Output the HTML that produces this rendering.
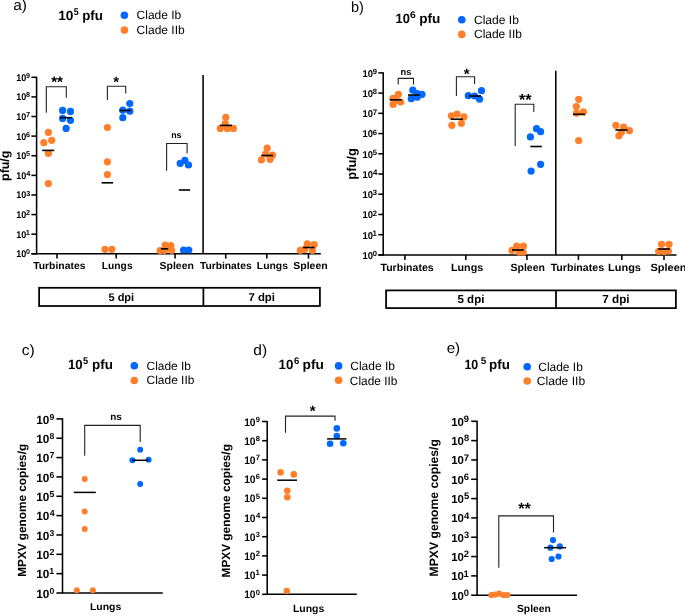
<!DOCTYPE html>
<html><head><meta charset="utf-8"><style>
html,body{margin:0;padding:0;background:#fff;}
svg{display:block;will-change:transform;}
text{font-family:"Liberation Sans",sans-serif;text-rendering:geometricPrecision;}
</style></head><body>
<svg width="685" height="615" viewBox="0 0 685 615">
<rect width="685" height="615" fill="#fff"/>
<text transform="translate(13.25,9.80) scale(1.041,1)" font-size="14.80" font-weight="normal" fill="#000" >a)</text>
<text transform="translate(58.14,20.30) scale(1.029,1)" font-size="13.30" font-weight="bold" fill="#000" >10</text>
<text transform="translate(73.63,15.40) scale(0.885,1)" font-size="10.00" font-weight="bold" fill="#000" >5</text>
<text transform="translate(82.22,20.30) scale(0.999,1)" font-size="13.30" font-weight="bold" fill="#000" >pfu</text>
<circle cx="124.40" cy="15.20" r="3.80" fill="#0068ff"/>
<circle cx="124.40" cy="30.10" r="3.80" fill="#ff7f2a"/>
<text x="136.59" y="19.40" font-size="12.00" font-weight="normal" fill="#000" >Clade Ib</text>
<text transform="translate(136.59,33.90) scale(1.002,1)" font-size="12.00" font-weight="normal" fill="#000" >Clade IIb</text>
<line x1="36.60" y1="76.70" x2="36.60" y2="254.40" stroke="#000" stroke-width="1.55"/>
<line x1="31.40" y1="77.30" x2="36.60" y2="77.30" stroke="#000" stroke-width="1.55"/>
<text transform="translate(16.33,80.80) scale(0.926,1)" font-size="9.75" font-weight="bold" fill="#000" >10</text>
<text x="26.05" y="77.88" font-size="7.20" font-weight="bold" fill="#000" >9</text>
<line x1="31.40" y1="96.91" x2="36.60" y2="96.91" stroke="#000" stroke-width="1.55"/>
<text transform="translate(16.33,100.41) scale(0.926,1)" font-size="9.75" font-weight="bold" fill="#000" >10</text>
<text x="26.07" y="97.49" font-size="7.20" font-weight="bold" fill="#000" >8</text>
<line x1="31.40" y1="116.52" x2="36.60" y2="116.52" stroke="#000" stroke-width="1.55"/>
<text transform="translate(16.33,120.02) scale(0.926,1)" font-size="9.75" font-weight="bold" fill="#000" >10</text>
<text x="25.98" y="117.17" font-size="7.41" font-weight="bold" fill="#000" >7</text>
<line x1="31.40" y1="136.13" x2="36.60" y2="136.13" stroke="#000" stroke-width="1.55"/>
<text transform="translate(16.33,139.63) scale(0.926,1)" font-size="9.75" font-weight="bold" fill="#000" >10</text>
<text x="26.03" y="136.71" font-size="7.20" font-weight="bold" fill="#000" >6</text>
<line x1="31.40" y1="155.74" x2="36.60" y2="155.74" stroke="#000" stroke-width="1.55"/>
<text transform="translate(16.33,159.24) scale(0.926,1)" font-size="9.75" font-weight="bold" fill="#000" >10</text>
<text x="26.07" y="156.32" font-size="7.31" font-weight="bold" fill="#000" >5</text>
<line x1="31.40" y1="175.36" x2="36.60" y2="175.36" stroke="#000" stroke-width="1.55"/>
<text transform="translate(16.33,178.86) scale(0.926,1)" font-size="9.75" font-weight="bold" fill="#000" >10</text>
<text x="26.19" y="176.01" font-size="7.41" font-weight="bold" fill="#000" >4</text>
<line x1="31.40" y1="194.97" x2="36.60" y2="194.97" stroke="#000" stroke-width="1.55"/>
<text transform="translate(16.33,198.47) scale(0.926,1)" font-size="9.75" font-weight="bold" fill="#000" >10</text>
<text x="26.13" y="195.54" font-size="7.19" font-weight="bold" fill="#000" >3</text>
<line x1="31.40" y1="214.58" x2="36.60" y2="214.58" stroke="#000" stroke-width="1.55"/>
<text transform="translate(16.33,218.08) scale(0.926,1)" font-size="9.75" font-weight="bold" fill="#000" >10</text>
<text x="26.04" y="215.23" font-size="7.31" font-weight="bold" fill="#000" >2</text>
<line x1="31.40" y1="234.19" x2="36.60" y2="234.19" stroke="#000" stroke-width="1.55"/>
<text transform="translate(16.33,237.69) scale(0.926,1)" font-size="9.75" font-weight="bold" fill="#000" >10</text>
<text x="25.83" y="234.84" font-size="7.41" font-weight="bold" fill="#000" >1</text>
<line x1="31.40" y1="253.80" x2="36.60" y2="253.80" stroke="#000" stroke-width="1.55"/>
<text transform="translate(16.33,257.30) scale(0.926,1)" font-size="9.75" font-weight="bold" fill="#000" >10</text>
<text x="26.01" y="254.38" font-size="7.20" font-weight="bold" fill="#000" >0</text>
<line x1="31.40" y1="253.80" x2="320.80" y2="253.80" stroke="#000" stroke-width="1.55"/>
<line x1="203.10" y1="75.00" x2="203.10" y2="253.80" stroke="#000" stroke-width="1.55"/>
<line x1="57.00" y1="253.80" x2="57.00" y2="258.60" stroke="#000" stroke-width="1.55"/>
<line x1="116.20" y1="253.80" x2="116.20" y2="258.60" stroke="#000" stroke-width="1.55"/>
<line x1="175.10" y1="253.80" x2="175.10" y2="258.60" stroke="#000" stroke-width="1.55"/>
<line x1="225.70" y1="253.80" x2="225.70" y2="258.60" stroke="#000" stroke-width="1.55"/>
<line x1="266.80" y1="253.80" x2="266.80" y2="258.60" stroke="#000" stroke-width="1.55"/>
<line x1="308.50" y1="253.80" x2="308.50" y2="258.60" stroke="#000" stroke-width="1.55"/>
<text transform="translate(33.19,269.20) scale(1.027,1)" font-size="10.10" font-weight="bold" fill="#000" >Turbinates</text>
<text transform="translate(101.81,269.20) scale(1.017,1)" font-size="10.10" font-weight="bold" fill="#000" >Lungs</text>
<text transform="translate(159.60,269.20) scale(1.034,1)" font-size="10.10" font-weight="bold" fill="#000" >Spleen</text>
<text transform="translate(199.89,269.20) scale(1.019,1)" font-size="10.10" font-weight="bold" fill="#000" >Turbinates</text>
<text transform="translate(256.80,269.20) scale(1.027,1)" font-size="10.10" font-weight="bold" fill="#000" >Lungs</text>
<text transform="translate(293.30,269.20) scale(1.037,1)" font-size="10.10" font-weight="bold" fill="#000" >Spleen</text>
<text transform="translate(9.40,180.92) rotate(-90)" x="0" y="0" font-size="12.38" font-weight="bold">pfu/g</text>
<rect x="39.1" y="287.8" width="280.8" height="18.2" fill="none" stroke="#000" stroke-width="1.75"/>
<line x1="203.40" y1="287.80" x2="203.40" y2="306.00" stroke="#000" stroke-width="1.75"/>
<text x="108.46" y="301.00" font-size="11.02" font-weight="bold" fill="#000" >5 dpi</text>
<text x="248.41" y="301.00" font-size="11.40" font-weight="bold" fill="#000" >7 dpi</text>
<polyline points="46.30,112.80 46.30,86.80 66.30,86.80 66.30,97.70" fill="none" stroke="#222" stroke-width="1.1"/>
<text x="51.15" y="86.84" font-size="15.25" font-weight="bold" fill="#000" >**</text>
<polyline points="107.40,100.00 107.40,86.30 125.70,86.30 125.70,93.50" fill="none" stroke="#222" stroke-width="1.1"/>
<text x="113.25" y="86.94" font-size="15.06" font-weight="bold" fill="#000" >*</text>
<polyline points="166.60,170.70 166.60,143.50 187.10,143.50 187.10,153.30" fill="none" stroke="#222" stroke-width="1.1"/>
<text x="171.21" y="138.40" font-size="8.87" font-weight="bold" fill="#000" >ns</text>
<circle cx="48.40" cy="132.40" r="3.60" fill="#ff7f2a"/>
<circle cx="51.70" cy="140.30" r="3.60" fill="#ff7f2a"/>
<circle cx="43.80" cy="142.70" r="3.60" fill="#ff7f2a"/>
<circle cx="48.40" cy="153.50" r="3.60" fill="#ff7f2a"/>
<circle cx="48.40" cy="183.60" r="3.60" fill="#ff7f2a"/>
<line x1="42.20" y1="150.40" x2="54.20" y2="150.40" stroke="#000" stroke-width="1.6"/>
<circle cx="62.60" cy="110.40" r="3.60" fill="#0068ff"/>
<circle cx="70.50" cy="111.40" r="3.60" fill="#0068ff"/>
<circle cx="62.60" cy="118.40" r="3.60" fill="#0068ff"/>
<circle cx="70.50" cy="120.30" r="3.60" fill="#0068ff"/>
<circle cx="66.10" cy="128.40" r="3.60" fill="#0068ff"/>
<line x1="60.10" y1="117.70" x2="71.80" y2="117.70" stroke="#000" stroke-width="1.6"/>
<circle cx="107.40" cy="127.50" r="3.60" fill="#ff7f2a"/>
<circle cx="107.40" cy="161.80" r="3.60" fill="#ff7f2a"/>
<circle cx="107.40" cy="174.60" r="3.60" fill="#ff7f2a"/>
<circle cx="105.00" cy="249.30" r="3.60" fill="#ff7f2a"/>
<circle cx="111.90" cy="249.30" r="3.60" fill="#ff7f2a"/>
<line x1="101.60" y1="182.80" x2="113.10" y2="182.80" stroke="#000" stroke-width="1.6"/>
<circle cx="129.80" cy="103.50" r="3.60" fill="#0068ff"/>
<circle cx="122.80" cy="110.20" r="3.60" fill="#0068ff"/>
<circle cx="129.80" cy="111.20" r="3.60" fill="#0068ff"/>
<circle cx="122.80" cy="117.70" r="3.60" fill="#0068ff"/>
<line x1="119.40" y1="110.50" x2="130.90" y2="110.50" stroke="#000" stroke-width="1.6"/>
<circle cx="160.10" cy="250.60" r="3.60" fill="#ff7f2a"/>
<circle cx="165.20" cy="245.00" r="3.60" fill="#ff7f2a"/>
<circle cx="170.90" cy="245.70" r="3.60" fill="#ff7f2a"/>
<circle cx="171.60" cy="250.30" r="3.60" fill="#ff7f2a"/>
<circle cx="164.70" cy="250.30" r="3.60" fill="#ff7f2a"/>
<line x1="160.90" y1="248.80" x2="168.30" y2="248.80" stroke="#000" stroke-width="1.6"/>
<circle cx="180.20" cy="163.40" r="3.60" fill="#0068ff"/>
<circle cx="184.90" cy="160.40" r="3.60" fill="#0068ff"/>
<circle cx="188.50" cy="165.00" r="3.60" fill="#0068ff"/>
<circle cx="183.60" cy="250.00" r="3.60" fill="#0068ff"/>
<circle cx="188.80" cy="250.00" r="3.60" fill="#0068ff"/>
<line x1="178.80" y1="190.00" x2="190.10" y2="190.00" stroke="#000" stroke-width="1.6"/>
<circle cx="225.80" cy="117.30" r="3.60" fill="#ff7f2a"/>
<circle cx="225.20" cy="123.70" r="3.60" fill="#ff7f2a"/>
<circle cx="220.30" cy="128.40" r="3.60" fill="#ff7f2a"/>
<circle cx="227.30" cy="128.40" r="3.60" fill="#ff7f2a"/>
<circle cx="233.40" cy="128.40" r="3.60" fill="#ff7f2a"/>
<line x1="219.90" y1="125.40" x2="232.00" y2="125.40" stroke="#000" stroke-width="1.6"/>
<circle cx="267.20" cy="148.20" r="3.60" fill="#ff7f2a"/>
<circle cx="272.50" cy="155.20" r="3.60" fill="#ff7f2a"/>
<circle cx="261.40" cy="159.90" r="3.60" fill="#ff7f2a"/>
<circle cx="270.10" cy="159.30" r="3.60" fill="#ff7f2a"/>
<circle cx="265.50" cy="154.00" r="3.60" fill="#ff7f2a"/>
<line x1="261.20" y1="155.50" x2="273.10" y2="155.50" stroke="#000" stroke-width="1.6"/>
<circle cx="300.30" cy="250.30" r="3.60" fill="#ff7f2a"/>
<circle cx="304.70" cy="249.30" r="3.60" fill="#ff7f2a"/>
<circle cx="307.30" cy="243.90" r="3.60" fill="#ff7f2a"/>
<circle cx="314.20" cy="244.60" r="3.60" fill="#ff7f2a"/>
<circle cx="312.40" cy="250.40" r="3.60" fill="#ff7f2a"/>
<line x1="303.10" y1="247.50" x2="314.60" y2="247.50" stroke="#000" stroke-width="1.6"/>
<text transform="translate(351.06,12.30) scale(0.975,1)" font-size="14.80" font-weight="normal" fill="#000" >b)</text>
<text transform="translate(395.49,22.90) scale(0.962,1)" font-size="13.40" font-weight="bold" fill="#000" >10</text>
<text transform="translate(410.12,17.50) scale(1.078,1)" font-size="9.60" font-weight="bold" fill="#000" >6</text>
<text transform="translate(419.20,22.90) scale(1.012,1)" font-size="13.40" font-weight="bold" fill="#000" >pfu</text>
<circle cx="461.80" cy="19.80" r="3.80" fill="#0068ff"/>
<circle cx="461.80" cy="34.40" r="3.80" fill="#ff7f2a"/>
<text transform="translate(473.99,23.80) scale(1.003,1)" font-size="12.00" font-weight="normal" fill="#000" >Clade Ib</text>
<text transform="translate(473.99,38.30) scale(0.998,1)" font-size="12.00" font-weight="normal" fill="#000" >Clade IIb</text>
<line x1="383.20" y1="72.30" x2="383.20" y2="255.50" stroke="#000" stroke-width="1.55"/>
<line x1="378.30" y1="72.90" x2="383.20" y2="72.90" stroke="#000" stroke-width="1.55"/>
<text transform="translate(362.51,76.80) scale(0.953,1)" font-size="9.89" font-weight="bold" fill="#000" >10</text>
<text x="372.73" y="74.02" font-size="7.63" font-weight="bold" fill="#000" >9</text>
<line x1="378.30" y1="93.12" x2="383.20" y2="93.12" stroke="#000" stroke-width="1.55"/>
<text transform="translate(362.51,97.02) scale(0.953,1)" font-size="9.89" font-weight="bold" fill="#000" >10</text>
<text x="372.76" y="94.25" font-size="7.63" font-weight="bold" fill="#000" >8</text>
<line x1="378.30" y1="113.34" x2="383.20" y2="113.34" stroke="#000" stroke-width="1.55"/>
<text transform="translate(362.51,117.24) scale(0.953,1)" font-size="9.89" font-weight="bold" fill="#000" >10</text>
<text x="372.66" y="114.54" font-size="7.85" font-weight="bold" fill="#000" >7</text>
<line x1="378.30" y1="133.57" x2="383.20" y2="133.57" stroke="#000" stroke-width="1.55"/>
<text transform="translate(362.51,137.47) scale(0.953,1)" font-size="9.89" font-weight="bold" fill="#000" >10</text>
<text x="372.72" y="134.69" font-size="7.63" font-weight="bold" fill="#000" >6</text>
<line x1="378.30" y1="153.79" x2="383.20" y2="153.79" stroke="#000" stroke-width="1.55"/>
<text transform="translate(362.51,157.69) scale(0.953,1)" font-size="9.89" font-weight="bold" fill="#000" >10</text>
<text x="372.76" y="154.91" font-size="7.74" font-weight="bold" fill="#000" >5</text>
<line x1="378.30" y1="174.01" x2="383.20" y2="174.01" stroke="#000" stroke-width="1.55"/>
<text transform="translate(362.51,177.91) scale(0.953,1)" font-size="9.89" font-weight="bold" fill="#000" >10</text>
<text x="372.88" y="175.21" font-size="7.85" font-weight="bold" fill="#000" >4</text>
<line x1="378.30" y1="194.23" x2="383.20" y2="194.23" stroke="#000" stroke-width="1.55"/>
<text transform="translate(362.51,198.13) scale(0.953,1)" font-size="9.89" font-weight="bold" fill="#000" >10</text>
<text x="372.82" y="195.35" font-size="7.62" font-weight="bold" fill="#000" >3</text>
<line x1="378.30" y1="214.46" x2="383.20" y2="214.46" stroke="#000" stroke-width="1.55"/>
<text transform="translate(362.51,218.36) scale(0.953,1)" font-size="9.89" font-weight="bold" fill="#000" >10</text>
<text x="372.73" y="215.66" font-size="7.74" font-weight="bold" fill="#000" >2</text>
<line x1="378.30" y1="234.68" x2="383.20" y2="234.68" stroke="#000" stroke-width="1.55"/>
<text transform="translate(362.51,238.58) scale(0.953,1)" font-size="9.89" font-weight="bold" fill="#000" >10</text>
<text x="372.51" y="235.88" font-size="7.85" font-weight="bold" fill="#000" >1</text>
<line x1="378.30" y1="254.90" x2="383.20" y2="254.90" stroke="#000" stroke-width="1.55"/>
<text transform="translate(362.51,258.80) scale(0.953,1)" font-size="9.89" font-weight="bold" fill="#000" >10</text>
<text x="372.69" y="256.02" font-size="7.63" font-weight="bold" fill="#000" >0</text>
<line x1="378.30" y1="254.90" x2="676.50" y2="254.90" stroke="#000" stroke-width="1.55"/>
<line x1="555.80" y1="70.80" x2="555.80" y2="254.90" stroke="#000" stroke-width="1.55"/>
<line x1="404.90" y1="254.90" x2="404.90" y2="259.90" stroke="#000" stroke-width="1.55"/>
<line x1="465.80" y1="254.90" x2="465.80" y2="259.90" stroke="#000" stroke-width="1.55"/>
<line x1="526.90" y1="254.90" x2="526.90" y2="259.90" stroke="#000" stroke-width="1.55"/>
<line x1="578.40" y1="254.90" x2="578.40" y2="259.90" stroke="#000" stroke-width="1.55"/>
<line x1="621.80" y1="254.90" x2="621.80" y2="259.90" stroke="#000" stroke-width="1.55"/>
<line x1="664.00" y1="254.90" x2="664.00" y2="259.90" stroke="#000" stroke-width="1.55"/>
<text transform="translate(380.48,270.70) scale(1.005,1)" font-size="10.50" font-weight="bold" fill="#000" >Turbinates</text>
<text transform="translate(450.98,270.70) scale(1.021,1)" font-size="10.50" font-weight="bold" fill="#000" >Lungs</text>
<text x="510.50" y="270.70" font-size="10.50" font-weight="bold" fill="#000" >Spleen</text>
<text transform="translate(550.68,270.70) scale(1.009,1)" font-size="10.50" font-weight="bold" fill="#000" >Turbinates</text>
<text transform="translate(608.07,270.70) scale(1.044,1)" font-size="10.50" font-weight="bold" fill="#000" >Lungs</text>
<text transform="translate(650.48,270.70) scale(1.046,1)" font-size="10.50" font-weight="bold" fill="#000" >Spleen</text>
<text transform="translate(356.30,179.65) rotate(-90)" x="0" y="0" font-size="12.89" font-weight="bold">pfu/g</text>
<rect x="386.1" y="290.4" width="289.8" height="17.7" fill="none" stroke="#000" stroke-width="1.75"/>
<line x1="556.00" y1="290.40" x2="556.00" y2="308.10" stroke="#000" stroke-width="1.75"/>
<text x="457.54" y="303.00" font-size="11.51" font-weight="bold" fill="#000" >5 dpi</text>
<text x="602.30" y="303.00" font-size="11.71" font-weight="bold" fill="#000" >7 dpi</text>
<polyline points="398.20,84.40 398.20,78.40 413.50,78.40 413.50,84.40" fill="none" stroke="#222" stroke-width="1.1"/>
<text x="400.59" y="74.70" font-size="9.25" font-weight="bold" fill="#000" >ns</text>
<polyline points="456.40,96.00 456.40,76.70 474.60,76.70 474.60,84.00" fill="none" stroke="#222" stroke-width="1.1"/>
<text x="463.65" y="78.59" font-size="15.06" font-weight="bold" fill="#000" >*</text>
<polyline points="515.20,146.00 515.20,104.30 533.80,104.30 533.80,111.90" fill="none" stroke="#222" stroke-width="1.1"/>
<text x="518.95" y="104.64" font-size="16.15" font-weight="bold" fill="#000" >**</text>
<circle cx="398.40" cy="94.30" r="3.60" fill="#ff7f2a"/>
<circle cx="393.00" cy="98.30" r="3.60" fill="#ff7f2a"/>
<circle cx="400.70" cy="102.00" r="3.60" fill="#ff7f2a"/>
<circle cx="393.00" cy="104.50" r="3.60" fill="#ff7f2a"/>
<circle cx="396.00" cy="100.50" r="3.60" fill="#ff7f2a"/>
<line x1="389.80" y1="99.80" x2="401.80" y2="99.80" stroke="#000" stroke-width="1.6"/>
<circle cx="412.80" cy="90.20" r="3.60" fill="#0068ff"/>
<circle cx="417.20" cy="93.50" r="3.60" fill="#0068ff"/>
<circle cx="422.00" cy="94.30" r="3.60" fill="#0068ff"/>
<circle cx="411.30" cy="98.70" r="3.60" fill="#0068ff"/>
<circle cx="417.20" cy="97.20" r="3.60" fill="#0068ff"/>
<line x1="408.00" y1="95.00" x2="419.80" y2="95.00" stroke="#000" stroke-width="1.6"/>
<circle cx="451.40" cy="115.80" r="3.60" fill="#ff7f2a"/>
<circle cx="457.10" cy="114.20" r="3.60" fill="#ff7f2a"/>
<circle cx="463.90" cy="116.90" r="3.60" fill="#ff7f2a"/>
<circle cx="451.90" cy="125.30" r="3.60" fill="#ff7f2a"/>
<circle cx="461.40" cy="123.30" r="3.60" fill="#ff7f2a"/>
<line x1="450.70" y1="119.20" x2="462.80" y2="119.20" stroke="#000" stroke-width="1.6"/>
<circle cx="468.30" cy="95.70" r="3.60" fill="#0068ff"/>
<circle cx="481.50" cy="90.70" r="3.60" fill="#0068ff"/>
<circle cx="479.60" cy="99.20" r="3.60" fill="#0068ff"/>
<circle cx="474.60" cy="96.00" r="3.60" fill="#0068ff"/>
<line x1="468.90" y1="96.00" x2="481.00" y2="96.00" stroke="#000" stroke-width="1.6"/>
<circle cx="512.00" cy="250.40" r="3.60" fill="#ff7f2a"/>
<circle cx="516.70" cy="246.10" r="3.60" fill="#ff7f2a"/>
<circle cx="523.40" cy="246.10" r="3.60" fill="#ff7f2a"/>
<circle cx="519.30" cy="252.20" r="3.60" fill="#ff7f2a"/>
<circle cx="523.10" cy="252.20" r="3.60" fill="#ff7f2a"/>
<line x1="512.00" y1="250.00" x2="523.70" y2="250.00" stroke="#000" stroke-width="1.6"/>
<circle cx="536.50" cy="128.70" r="3.60" fill="#0068ff"/>
<circle cx="540.60" cy="131.70" r="3.60" fill="#0068ff"/>
<circle cx="530.40" cy="136.90" r="3.60" fill="#0068ff"/>
<circle cx="540.60" cy="164.30" r="3.60" fill="#0068ff"/>
<circle cx="531.10" cy="171.10" r="3.60" fill="#0068ff"/>
<line x1="530.40" y1="146.50" x2="541.80" y2="146.50" stroke="#000" stroke-width="1.6"/>
<circle cx="578.70" cy="99.30" r="3.60" fill="#ff7f2a"/>
<circle cx="576.30" cy="106.60" r="3.60" fill="#ff7f2a"/>
<circle cx="583.40" cy="111.90" r="3.60" fill="#ff7f2a"/>
<circle cx="576.50" cy="113.20" r="3.60" fill="#ff7f2a"/>
<circle cx="578.70" cy="140.60" r="3.60" fill="#ff7f2a"/>
<line x1="572.90" y1="114.30" x2="584.90" y2="114.30" stroke="#000" stroke-width="1.6"/>
<circle cx="615.90" cy="125.30" r="3.60" fill="#ff7f2a"/>
<circle cx="623.60" cy="127.20" r="3.60" fill="#ff7f2a"/>
<circle cx="629.40" cy="130.70" r="3.60" fill="#ff7f2a"/>
<circle cx="618.90" cy="135.80" r="3.60" fill="#ff7f2a"/>
<circle cx="621.40" cy="132.20" r="3.60" fill="#ff7f2a"/>
<line x1="615.40" y1="130.00" x2="627.60" y2="130.00" stroke="#000" stroke-width="1.6"/>
<circle cx="661.60" cy="244.30" r="3.60" fill="#ff7f2a"/>
<circle cx="669.00" cy="244.30" r="3.60" fill="#ff7f2a"/>
<circle cx="658.70" cy="251.30" r="3.60" fill="#ff7f2a"/>
<circle cx="668.40" cy="251.00" r="3.60" fill="#ff7f2a"/>
<circle cx="664.30" cy="251.60" r="3.60" fill="#ff7f2a"/>
<line x1="658.10" y1="249.00" x2="669.80" y2="249.00" stroke="#000" stroke-width="1.6"/>
<text transform="translate(21.64,354.60) scale(1.057,1)" font-size="14.80" font-weight="normal" fill="#000" >c)</text>
<text transform="translate(67.97,369.10) scale(0.985,1)" font-size="13.40" font-weight="bold" fill="#000" >10</text>
<text transform="translate(83.01,364.00) scale(0.926,1)" font-size="10.00" font-weight="bold" fill="#000" >5</text>
<text transform="translate(92.01,369.10) scale(1.002,1)" font-size="13.40" font-weight="bold" fill="#000" >pfu</text>
<circle cx="134.30" cy="365.70" r="3.80" fill="#0068ff"/>
<circle cx="134.30" cy="380.50" r="3.80" fill="#ff7f2a"/>
<text transform="translate(146.59,369.80) scale(1.002,1)" font-size="11.90" font-weight="normal" fill="#000" >Clade Ib</text>
<text transform="translate(146.59,384.10) scale(1.004,1)" font-size="11.90" font-weight="normal" fill="#000" >Clade IIb</text>
<line x1="62.50" y1="418.30" x2="62.50" y2="593.60" stroke="#000" stroke-width="1.55"/>
<line x1="56.40" y1="418.90" x2="62.50" y2="418.90" stroke="#000" stroke-width="1.55"/>
<text transform="translate(36.26,423.50) scale(0.995,1)" font-size="11.86" font-weight="bold" fill="#000" >10</text>
<text x="49.50" y="419.61" font-size="8.62" font-weight="bold" fill="#000" >9</text>
<line x1="56.40" y1="438.24" x2="62.50" y2="438.24" stroke="#000" stroke-width="1.55"/>
<text transform="translate(36.26,442.84) scale(0.995,1)" font-size="11.86" font-weight="bold" fill="#000" >10</text>
<text x="49.52" y="438.96" font-size="8.62" font-weight="bold" fill="#000" >8</text>
<line x1="56.40" y1="457.59" x2="62.50" y2="457.59" stroke="#000" stroke-width="1.55"/>
<text transform="translate(36.26,462.19) scale(0.995,1)" font-size="11.86" font-weight="bold" fill="#000" >10</text>
<text x="49.42" y="458.39" font-size="8.87" font-weight="bold" fill="#000" >7</text>
<line x1="56.40" y1="476.93" x2="62.50" y2="476.93" stroke="#000" stroke-width="1.55"/>
<text transform="translate(36.26,481.53) scale(0.995,1)" font-size="11.86" font-weight="bold" fill="#000" >10</text>
<text x="49.48" y="477.65" font-size="8.62" font-weight="bold" fill="#000" >6</text>
<line x1="56.40" y1="496.28" x2="62.50" y2="496.28" stroke="#000" stroke-width="1.55"/>
<text transform="translate(36.26,500.88) scale(0.995,1)" font-size="11.86" font-weight="bold" fill="#000" >10</text>
<text x="49.53" y="496.99" font-size="8.74" font-weight="bold" fill="#000" >5</text>
<line x1="56.40" y1="515.62" x2="62.50" y2="515.62" stroke="#000" stroke-width="1.55"/>
<text transform="translate(36.26,520.22) scale(0.995,1)" font-size="11.86" font-weight="bold" fill="#000" >10</text>
<text x="49.67" y="516.42" font-size="8.87" font-weight="bold" fill="#000" >4</text>
<line x1="56.40" y1="534.97" x2="62.50" y2="534.97" stroke="#000" stroke-width="1.55"/>
<text transform="translate(36.26,539.57) scale(0.995,1)" font-size="11.86" font-weight="bold" fill="#000" >10</text>
<text x="49.60" y="535.67" font-size="8.60" font-weight="bold" fill="#000" >3</text>
<line x1="56.40" y1="554.31" x2="62.50" y2="554.31" stroke="#000" stroke-width="1.55"/>
<text transform="translate(36.26,558.91) scale(0.995,1)" font-size="11.86" font-weight="bold" fill="#000" >10</text>
<text x="49.49" y="555.11" font-size="8.74" font-weight="bold" fill="#000" >2</text>
<line x1="56.40" y1="573.66" x2="62.50" y2="573.66" stroke="#000" stroke-width="1.55"/>
<text transform="translate(36.26,578.26) scale(0.995,1)" font-size="11.86" font-weight="bold" fill="#000" >10</text>
<text x="49.24" y="574.46" font-size="8.87" font-weight="bold" fill="#000" >1</text>
<line x1="56.40" y1="593.00" x2="62.50" y2="593.00" stroke="#000" stroke-width="1.55"/>
<text transform="translate(36.26,597.60) scale(0.995,1)" font-size="11.86" font-weight="bold" fill="#000" >10</text>
<text x="49.46" y="593.71" font-size="8.62" font-weight="bold" fill="#000" >0</text>
<line x1="62.50" y1="593.00" x2="162.80" y2="593.00" stroke="#000" stroke-width="1.55"/>
<text transform="translate(89.90,609.80) scale(1.045,1)" font-size="10.00" font-weight="bold" fill="#000" >Lungs</text>
<text transform="translate(25.50,576.79) rotate(-90)" x="0" y="0" font-size="11.79" font-weight="bold">MPXV genome copies/g</text>
<polyline points="84.70,455.80 84.70,425.40 140.20,425.40 140.20,442.00" fill="none" stroke="#222" stroke-width="1.1"/>
<text x="110.25" y="420.10" font-size="9.91" font-weight="bold" fill="#000" >ns</text>
<circle cx="84.70" cy="479.00" r="3.00" fill="#ff7f2a"/>
<circle cx="84.70" cy="511.50" r="3.00" fill="#ff7f2a"/>
<circle cx="84.70" cy="529.10" r="3.00" fill="#ff7f2a"/>
<circle cx="76.90" cy="590.30" r="3.00" fill="#ff7f2a"/>
<circle cx="92.90" cy="590.30" r="3.00" fill="#ff7f2a"/>
<line x1="73.80" y1="492.40" x2="95.80" y2="492.40" stroke="#000" stroke-width="1.5"/>
<circle cx="140.20" cy="449.80" r="3.00" fill="#0068ff"/>
<circle cx="132.40" cy="460.30" r="3.00" fill="#0068ff"/>
<circle cx="148.60" cy="459.80" r="3.00" fill="#0068ff"/>
<circle cx="140.20" cy="483.90" r="3.00" fill="#0068ff"/>
<line x1="132.40" y1="460.30" x2="148.60" y2="460.30" stroke="#000" stroke-width="1.5"/>
<text transform="translate(253.25,354.60) scale(1.050,1)" font-size="14.80" font-weight="normal" fill="#000" >d)</text>
<text transform="translate(278.56,368.90) scale(0.992,1)" font-size="13.40" font-weight="bold" fill="#000" >10</text>
<text transform="translate(293.95,363.80) scale(0.992,1)" font-size="9.60" font-weight="bold" fill="#000" >6</text>
<text transform="translate(302.60,368.90) scale(1.023,1)" font-size="13.40" font-weight="bold" fill="#000" >pfu</text>
<circle cx="338.60" cy="365.90" r="3.80" fill="#0068ff"/>
<circle cx="338.60" cy="380.30" r="3.80" fill="#ff7f2a"/>
<text x="350.29" y="370.10" font-size="12.00" font-weight="normal" fill="#000" >Clade Ib</text>
<text transform="translate(349.79,384.60) scale(0.991,1)" font-size="12.00" font-weight="normal" fill="#000" >Clade IIb</text>
<line x1="267.20" y1="420.90" x2="267.20" y2="594.90" stroke="#000" stroke-width="1.55"/>
<line x1="262.10" y1="421.50" x2="267.20" y2="421.50" stroke="#000" stroke-width="1.55"/>
<text transform="translate(244.16,425.60) scale(0.940,1)" font-size="10.88" font-weight="bold" fill="#000" >10</text>
<text x="255.74" y="421.78" font-size="7.49" font-weight="bold" fill="#000" >9</text>
<line x1="262.10" y1="440.70" x2="267.20" y2="440.70" stroke="#000" stroke-width="1.55"/>
<text transform="translate(244.16,444.80) scale(0.940,1)" font-size="10.88" font-weight="bold" fill="#000" >10</text>
<text x="255.76" y="440.98" font-size="7.49" font-weight="bold" fill="#000" >8</text>
<line x1="262.10" y1="459.90" x2="267.20" y2="459.90" stroke="#000" stroke-width="1.55"/>
<text transform="translate(244.16,464.00) scale(0.940,1)" font-size="10.88" font-weight="bold" fill="#000" >10</text>
<text x="255.67" y="460.25" font-size="7.70" font-weight="bold" fill="#000" >7</text>
<line x1="262.10" y1="479.10" x2="267.20" y2="479.10" stroke="#000" stroke-width="1.55"/>
<text transform="translate(244.16,483.20) scale(0.940,1)" font-size="10.88" font-weight="bold" fill="#000" >10</text>
<text x="255.72" y="479.38" font-size="7.49" font-weight="bold" fill="#000" >6</text>
<line x1="262.10" y1="498.30" x2="267.20" y2="498.30" stroke="#000" stroke-width="1.55"/>
<text transform="translate(244.16,502.40) scale(0.940,1)" font-size="10.88" font-weight="bold" fill="#000" >10</text>
<text x="255.76" y="498.57" font-size="7.59" font-weight="bold" fill="#000" >5</text>
<line x1="262.10" y1="517.50" x2="267.20" y2="517.50" stroke="#000" stroke-width="1.55"/>
<text transform="translate(244.16,521.60) scale(0.940,1)" font-size="10.88" font-weight="bold" fill="#000" >10</text>
<text x="255.88" y="517.85" font-size="7.70" font-weight="bold" fill="#000" >4</text>
<line x1="262.10" y1="536.70" x2="267.20" y2="536.70" stroke="#000" stroke-width="1.55"/>
<text transform="translate(244.16,540.80) scale(0.940,1)" font-size="10.88" font-weight="bold" fill="#000" >10</text>
<text x="255.83" y="536.97" font-size="7.48" font-weight="bold" fill="#000" >3</text>
<line x1="262.10" y1="555.90" x2="267.20" y2="555.90" stroke="#000" stroke-width="1.55"/>
<text transform="translate(244.16,560.00) scale(0.940,1)" font-size="10.88" font-weight="bold" fill="#000" >10</text>
<text x="255.73" y="556.25" font-size="7.59" font-weight="bold" fill="#000" >2</text>
<line x1="262.10" y1="575.10" x2="267.20" y2="575.10" stroke="#000" stroke-width="1.55"/>
<text transform="translate(244.16,579.20) scale(0.940,1)" font-size="10.88" font-weight="bold" fill="#000" >10</text>
<text x="255.51" y="575.45" font-size="7.70" font-weight="bold" fill="#000" >1</text>
<line x1="262.10" y1="594.30" x2="267.20" y2="594.30" stroke="#000" stroke-width="1.55"/>
<text transform="translate(244.16,598.40) scale(0.940,1)" font-size="10.88" font-weight="bold" fill="#000" >10</text>
<text x="255.70" y="594.58" font-size="7.49" font-weight="bold" fill="#000" >0</text>
<line x1="267.20" y1="594.30" x2="356.80" y2="594.30" stroke="#000" stroke-width="1.55"/>
<text x="292.90" y="612.20" font-size="10.45" font-weight="bold" fill="#000" >Lungs</text>
<text transform="translate(230.00,577.39) rotate(-90)" x="0" y="0" font-size="11.82" font-weight="bold">MPXV genome copies/g</text>
<polyline points="285.50,432.70 285.50,416.10 335.00,416.10 335.00,420.80" fill="none" stroke="#222" stroke-width="1.1"/>
<text x="309.75" y="416.29" font-size="15.06" font-weight="bold" fill="#000" >*</text>
<circle cx="280.60" cy="472.40" r="3.30" fill="#ff7f2a"/>
<circle cx="293.80" cy="474.40" r="3.30" fill="#ff7f2a"/>
<circle cx="287.30" cy="490.70" r="3.30" fill="#ff7f2a"/>
<circle cx="287.30" cy="497.20" r="3.30" fill="#ff7f2a"/>
<circle cx="286.80" cy="591.00" r="3.30" fill="#ff7f2a"/>
<line x1="277.20" y1="480.20" x2="297.00" y2="480.20" stroke="#000" stroke-width="1.5"/>
<circle cx="336.80" cy="428.40" r="3.30" fill="#0068ff"/>
<circle cx="336.80" cy="436.00" r="3.30" fill="#0068ff"/>
<circle cx="330.10" cy="443.70" r="3.30" fill="#0068ff"/>
<circle cx="343.30" cy="443.30" r="3.30" fill="#0068ff"/>
<line x1="327.10" y1="438.90" x2="346.40" y2="438.90" stroke="#000" stroke-width="1.5"/>
<text transform="translate(446.66,352.70) scale(1.024,1)" font-size="14.80" font-weight="normal" fill="#000" >e)</text>
<text transform="translate(464.42,368.50) scale(0.925,1)" font-size="13.40" font-weight="bold" fill="#000" >10</text>
<text transform="translate(480.69,363.60) scale(0.986,1)" font-size="10.00" font-weight="bold" fill="#000" >5</text>
<text transform="translate(489.01,368.50) scale(1.002,1)" font-size="13.40" font-weight="bold" fill="#000" >pfu</text>
<circle cx="527.20" cy="366.70" r="3.80" fill="#0068ff"/>
<circle cx="527.20" cy="381.00" r="3.80" fill="#ff7f2a"/>
<text transform="translate(538.29,371.10) scale(0.996,1)" font-size="12.00" font-weight="normal" fill="#000" >Clade Ib</text>
<text transform="translate(536.78,385.10) scale(1.006,1)" font-size="12.00" font-weight="normal" fill="#000" >Clade IIb</text>
<line x1="477.10" y1="420.70" x2="477.10" y2="595.80" stroke="#000" stroke-width="1.55"/>
<line x1="471.20" y1="421.30" x2="477.10" y2="421.30" stroke="#000" stroke-width="1.55"/>
<text transform="translate(451.28,425.80) scale(0.985,1)" font-size="11.58" font-weight="bold" fill="#000" >10</text>
<text x="463.87" y="422.11" font-size="9.32" font-weight="bold" fill="#000" >9</text>
<line x1="471.20" y1="440.62" x2="477.10" y2="440.62" stroke="#000" stroke-width="1.55"/>
<text transform="translate(451.28,445.12) scale(0.985,1)" font-size="11.58" font-weight="bold" fill="#000" >10</text>
<text x="463.90" y="441.43" font-size="9.32" font-weight="bold" fill="#000" >8</text>
<line x1="471.20" y1="459.94" x2="477.10" y2="459.94" stroke="#000" stroke-width="1.55"/>
<text transform="translate(451.28,464.44) scale(0.985,1)" font-size="11.58" font-weight="bold" fill="#000" >10</text>
<text x="463.79" y="460.84" font-size="9.59" font-weight="bold" fill="#000" >7</text>
<line x1="471.20" y1="479.27" x2="477.10" y2="479.27" stroke="#000" stroke-width="1.55"/>
<text transform="translate(451.28,483.77) scale(0.985,1)" font-size="11.58" font-weight="bold" fill="#000" >10</text>
<text x="463.86" y="480.07" font-size="9.32" font-weight="bold" fill="#000" >6</text>
<line x1="471.20" y1="498.59" x2="477.10" y2="498.59" stroke="#000" stroke-width="1.55"/>
<text transform="translate(451.28,503.09) scale(0.985,1)" font-size="11.58" font-weight="bold" fill="#000" >10</text>
<text x="463.91" y="499.39" font-size="9.46" font-weight="bold" fill="#000" >5</text>
<line x1="471.20" y1="517.91" x2="477.10" y2="517.91" stroke="#000" stroke-width="1.55"/>
<text transform="translate(451.28,522.41) scale(0.985,1)" font-size="11.58" font-weight="bold" fill="#000" >10</text>
<text x="464.06" y="518.81" font-size="9.59" font-weight="bold" fill="#000" >4</text>
<line x1="471.20" y1="537.23" x2="477.10" y2="537.23" stroke="#000" stroke-width="1.55"/>
<text transform="translate(451.28,541.73) scale(0.985,1)" font-size="11.58" font-weight="bold" fill="#000" >10</text>
<text x="463.99" y="538.03" font-size="9.31" font-weight="bold" fill="#000" >3</text>
<line x1="471.20" y1="556.56" x2="477.10" y2="556.56" stroke="#000" stroke-width="1.55"/>
<text transform="translate(451.28,561.06) scale(0.985,1)" font-size="11.58" font-weight="bold" fill="#000" >10</text>
<text x="463.87" y="557.46" font-size="9.46" font-weight="bold" fill="#000" >2</text>
<line x1="471.20" y1="575.88" x2="477.10" y2="575.88" stroke="#000" stroke-width="1.55"/>
<text transform="translate(451.28,580.38) scale(0.985,1)" font-size="11.58" font-weight="bold" fill="#000" >10</text>
<text x="463.60" y="576.78" font-size="9.59" font-weight="bold" fill="#000" >1</text>
<line x1="471.20" y1="595.20" x2="477.10" y2="595.20" stroke="#000" stroke-width="1.55"/>
<text transform="translate(451.28,599.70) scale(0.985,1)" font-size="11.58" font-weight="bold" fill="#000" >10</text>
<text x="463.83" y="596.01" font-size="9.32" font-weight="bold" fill="#000" >0</text>
<line x1="477.10" y1="595.20" x2="577.00" y2="595.20" stroke="#000" stroke-width="1.55"/>
<text x="517.00" y="612.30" font-size="10.29" font-weight="bold" fill="#000" >Spleen</text>
<text transform="translate(438.00,576.42) rotate(-90)" x="0" y="0" font-size="12.18" font-weight="bold">MPXV genome copies/g</text>
<polyline points="498.80,567.80 498.80,515.90 553.50,515.90 553.50,532.60" fill="none" stroke="#222" stroke-width="1.1"/>
<text x="518.15" y="514.45" font-size="16.28" font-weight="bold" fill="#000" >**</text>
<circle cx="491.40" cy="595.00" r="3.10" fill="#ff7f2a"/>
<circle cx="495.10" cy="594.60" r="3.10" fill="#ff7f2a"/>
<circle cx="499.10" cy="593.70" r="3.10" fill="#ff7f2a"/>
<circle cx="503.60" cy="595.00" r="3.10" fill="#ff7f2a"/>
<circle cx="507.40" cy="595.00" r="3.10" fill="#ff7f2a"/>
<circle cx="553.00" cy="540.10" r="3.10" fill="#0068ff"/>
<circle cx="550.40" cy="547.70" r="3.10" fill="#0068ff"/>
<circle cx="559.80" cy="546.40" r="3.10" fill="#0068ff"/>
<circle cx="558.50" cy="556.50" r="3.10" fill="#0068ff"/>
<circle cx="551.70" cy="559.00" r="3.10" fill="#0068ff"/>
<line x1="544.10" y1="547.70" x2="566.10" y2="547.70" stroke="#000" stroke-width="1.5"/>
</svg>
</body></html>
